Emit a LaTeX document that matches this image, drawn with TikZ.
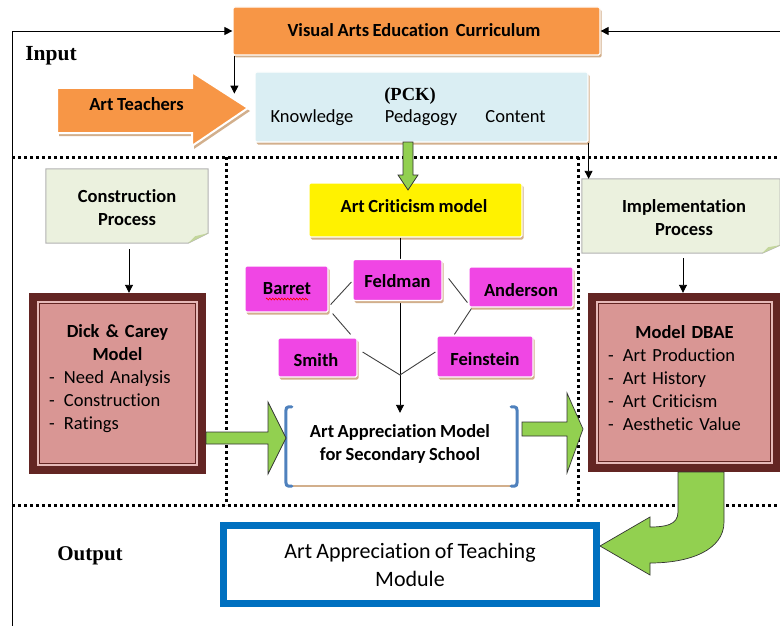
\documentclass[tikz,border=0pt]{standalone}
\usepackage{fontspec}
\setmainfont{Carlito}[Ligatures=NoCommon, WordSpace=0.85]
\newfontfamily\tnr{Liberation Serif}
\usetikzlibrary{arrows.meta,shadows,decorations.pathmorphing}
\definecolor{orangeA}{HTML}{F79646}
\definecolor{pckblue}{HTML}{DAEEF3}
\definecolor{notegreen}{HTML}{EBF1DE}
\definecolor{foldgreen}{HTML}{C3D69B}
\definecolor{maroon}{HTML}{632523}
\definecolor{pinkfill}{HTML}{D99694}
\definecolor{pinkline}{HTML}{E6B9B8}
\definecolor{magentaA}{HTML}{F046E4}
\definecolor{greenA}{HTML}{92D050}
\definecolor{outblue}{HTML}{0070C0}
\definecolor{brblue}{HTML}{4F81BD}
\definecolor{shadowtan}{HTML}{D2AF8C}
\tikzset{
  lab/.style={font=\fontsize{18.5}{23}\selectfont\bfseries, align=center},
  reg/.style={font=\fontsize{18.5}{23}\selectfont},
  bev/.style={draw=white, line width=1.2pt, rounded corners=1.5pt,
    drop shadow={shadow xshift=1.5pt, shadow yshift=-2.5pt, fill=shadowtan, opacity=1}},
  orangebox/.style={bev, fill=orangeA},
  pckbox/.style={bev, fill=pckblue},
  yellowbox/.style={bev, fill=yellow},
  magbox/.style={bev, fill=magentaA},
  conn/.style={draw=black, line width=0.9pt, -{Triangle[length=8pt,width=8pt]}},
  thinline/.style={draw=black!75, line width=0.9pt},
  dotline/.style={draw=black, line width=3pt, dash pattern=on 3pt off 3pt},
  garrow/.style={fill=greenA, draw=black!80, line width=0.7pt, line join=miter},
  notebox/.style={inner sep=0pt},
  maroonbox/.style={inner sep=0pt, fill=maroon},
}
\begin{document}
\begin{tikzpicture}[x=1pt,y=-1pt]
\useasboundingbox (0,0) rectangle (780,626);
% dotted section lines
\coordinate (d1) at (12,157); \coordinate (d2) at (780,157);
\coordinate (d3) at (12,505); \coordinate (d4) at (780,505);
\coordinate (v1) at (226,157); \coordinate (v2) at (226,505);
\coordinate (v3) at (578,157); \coordinate (v4) at (578,505);
\draw[dotline] (d1) -- (d2);
\draw[dotline] (d3) -- (d4);
\draw[dotline] (v1) -- (v2);
\draw[dotline] (v3) -- (v4);

% top boxes
\node[orangebox, minimum width=367, minimum height=48] (curr) at (416.5,31) {};
\node[lab] (currlab) at (414,30) {Visual Arts Education\ \ Curriculum};
\node[pckbox, minimum width=333, minimum height=70] (pck) at (421.5,107) {};
\node[font=\tnr\bfseries\fontsize{18.5}{20}\selectfont] (pcklab) at (410,96) {(PCK)};
\node[reg, anchor=base] (kn) at (312,123) {Knowledge};
\node[reg, anchor=base] (ped) at (421,123) {Pedagogy};
\node[reg, anchor=base] (con) at (515.5,123) {Content};

% Art teachers arrow
\path[fill=orangeA, draw=white, line width=2pt, line join=miter,
  drop shadow={shadow xshift=2pt, shadow yshift=-3pt, fill=shadowtan, opacity=1}]
  (57,88) -- (192,88) -- (192,72) -- (248,108) -- (192,146) -- (192,133) -- (57,133) -- cycle;
\node[lab] (teach) at (136.5,104) {Art Teachers};

% labels
\node[font=\tnr\bfseries\fontsize{21.5}{24}\selectfont] (inlab) at (51,56) {Input};
\node[font=\tnr\bfseries\fontsize{21}{24}\selectfont] (outlab) at (90,556) {Output};

% frame arrows
\coordinate (c1) at (12,626);
\coordinate (c2) at (780,31);
\draw[conn] (c1) |- (curr.west);
\draw[conn] (c2) -- (curr.east);
\draw[conn] ([xshift=2pt]curr.south west) -- ++(0,38);

% notes
\node[notebox, minimum width=162, minimum height=74] (cons) at (127,206) {};
\draw[fill=notegreen, draw=black!30, line width=1pt]
  (cons.north west) -- (cons.north east) -- ([yshift=10pt]cons.south east)
  -- ([xshift=-20pt]cons.south east) -- (cons.south west) -- cycle;
\fill[foldgreen] ([yshift=10pt]cons.south east) -- ([xshift=-20pt]cons.south east) -- ([xshift=-13pt,yshift=7pt]cons.south east) -- cycle;
\node[lab] (conslab) at (127,208) {Construction\\Process};

\node[notebox, minimum width=198, minimum height=74] (impl) at (681,216) {};
\draw[fill=notegreen, draw=black!30, line width=1pt]
  (impl.north west) -- (impl.north east) -- ([yshift=8pt]impl.south east)
  -- ([xshift=-18pt]impl.south east) -- (impl.south west) -- cycle;
\fill[foldgreen] ([yshift=8pt]impl.south east) -- ([xshift=-18pt]impl.south east) -- ([xshift=-12pt,yshift=6pt]impl.south east) -- cycle;
\node[lab] (impllab) at (684,218) {Implementation\\Process};

% maroon boxes
\node[maroonbox, minimum width=177, minimum height=181] (dc) at (117.5,383.5) {};
\fill[pinkline] ([shift={(8,8)}]dc.north west) rectangle ([shift={(-8,-8)}]dc.south east);
\draw[fill=pinkfill, draw=maroon, line width=1.2pt] ([shift={(10.5,10.5)}]dc.north west) rectangle ([shift={(-10.5,-10.5)}]dc.south east);
\node[font=\fontsize{18.5}{23}\selectfont, inner sep=0pt, text width=137pt, anchor=north] (dclab) at (117.5,324)
  {\centering\bfseries Dick \& Carey\\Model\par\raggedright\mdseries
   -\enspace Need Analysis\\-\enspace Construction\\-\enspace Ratings\par};

\node[maroonbox, minimum width=193, minimum height=179] (dbae) at (684.5,382.5) {};
\fill[pinkline] ([shift={(8,8)}]dbae.north west) rectangle ([shift={(-8,-8)}]dbae.south east);
\draw[fill=pinkfill, draw=maroon, line width=1.2pt] ([shift={(10.5,10.5)}]dbae.north west) rectangle ([shift={(-10.5,-10.5)}]dbae.south east);
\node[font=\fontsize{18.5}{23}\selectfont, inner sep=0pt, text width=153pt, anchor=north] (dbaelab) at (684.5,325)
  {\centering\bfseries Model DBAE\par\raggedright\mdseries
   -\enspace Art Production\\-\enspace Art History\\-\enspace Art Criticism\\-\enspace Aesthetic Value\par};

\draw[conn, shorten <=6pt] ([xshift=2pt]cons.south) -- ([xshift=2pt]cons.south |- dc.north);
\draw[conn, shorten <=5pt] ([xshift=2pt]impl.south) -- ([xshift=2pt]impl.south |- dbae.north);
\draw[conn] (pck.south east) -- (pck.south east |- impl.north);

% Art criticism cluster
\node[yellowbox, minimum width=213, minimum height=54] (ac) at (415.5,210) {};
\node[lab] (aclab) at (414,206) {Art Criticism model};
\node[minimum width=231, minimum height=79, inner sep=0pt] (aa) at (401.5,446.5) {};
\draw[conn] ([xshift=-15.5pt]ac.south) -- ([xshift=-15.5pt,yshift=-6pt]ac.south |- aa.north);
\coordinate (vv) at (400,375);

\node[magbox, minimum width=89, minimum height=41] (fel) at (397.5,280) {};
\node[lab] (fellab) at (397.5,281) {Feldman};
\node[magbox, minimum width=83, minimum height=46] (bar) at (286.5,289) {};
\node[lab] (barlab) at (287,289) {Barret};
\draw[red, line width=0.6pt, decorate, decoration={zigzag, amplitude=1pt, segment length=3pt}]
  ([xshift=-21pt,yshift=-10pt]barlab.center) -- ([xshift=21pt,yshift=-10pt]barlab.center);
\node[magbox, minimum width=104, minimum height=40] (and) at (521,287) {};
\node[lab] (andlab) at (521,290) {Anderson};
\node[magbox, minimum width=79, minimum height=39] (smi) at (317.5,357.5) {};
\node[lab] (smilab) at (316,360) {Smith};
\node[magbox, minimum width=96, minimum height=41] (fei) at (485,356.5) {};
\node[lab] (feilab) at (485,359) {Feinstein};

\draw[thinline] ([shift={(2,-8)}]bar.south east) -- ([shift={(-1,2)}]fel.west);
\draw[thinline] ([shift={(4,1)}]bar.south east) -- ([shift={(-7,-3)}]smi.north east);
\draw[thinline] ([shift={(6,-1.5)}]fel.east) -- ([shift={(-1,-5)}]and.south west);
\draw[thinline] ([shift={(3,1)}]and.south west) -- ([shift={(18,-1)}]fei.north west);
\draw[thinline] ([shift={(5,-5.5)}]smi.east) -- (vv) -- ([shift={(-1,-4.5)}]fei.west);

% Art appreciation model brackets
\draw[shadowtan, line width=2.2pt] ([xshift=4pt]aa.south west) -- ([xshift=-4pt]aa.south east);
\draw[brblue, line width=3pt, line cap=round]
  ([xshift=6pt]aa.north west) .. controls (aa.north west) .. ([yshift=-9pt]aa.north west)
  -- ([yshift=9pt]aa.south west) .. controls (aa.south west) .. ([xshift=6pt]aa.south west);
\draw[brblue, line width=3pt, line cap=round]
  ([xshift=-6pt]aa.north east) .. controls (aa.north east) .. ([yshift=-9pt]aa.north east)
  -- ([yshift=9pt]aa.south east) .. controls (aa.south east) .. ([xshift=-6pt]aa.south east);
\node[lab] (aalab) at (400,444) {Art Appreciation Model\\for Secondary School};

% green block arrows
\path[garrow] (403,142) -- (413,142) -- (413,175) -- (418,175) -- (408,190) -- (398,175) -- (403,175) -- cycle;
\path[garrow] (206,432) -- (268,432) -- (268,402) -- (286,438) -- (268,474) -- (268,444) -- (206,444) -- cycle;
\path[garrow] (522,422) -- (567,422) -- (567,393) -- (583,429) -- (567,473) -- (567,436) -- (522,436) -- cycle;
\path[garrow] (678,472) -- (724,472) -- (724,522) .. controls (724,550) and (690,563) .. (650,563)
  -- (650,575) -- (600,546) -- (650,517) -- (650,527) .. controls (665,527) and (678,525) .. (678,512) -- cycle;

% output box
\node[draw=outblue, line width=7pt, minimum width=373, minimum height=78, fill=white,
  font=\fontsize{22}{28}\selectfont, align=center] (out) at (410,564.5)
  {Art Appreciation of Teaching\\Module};
\end{tikzpicture}
\end{document}
